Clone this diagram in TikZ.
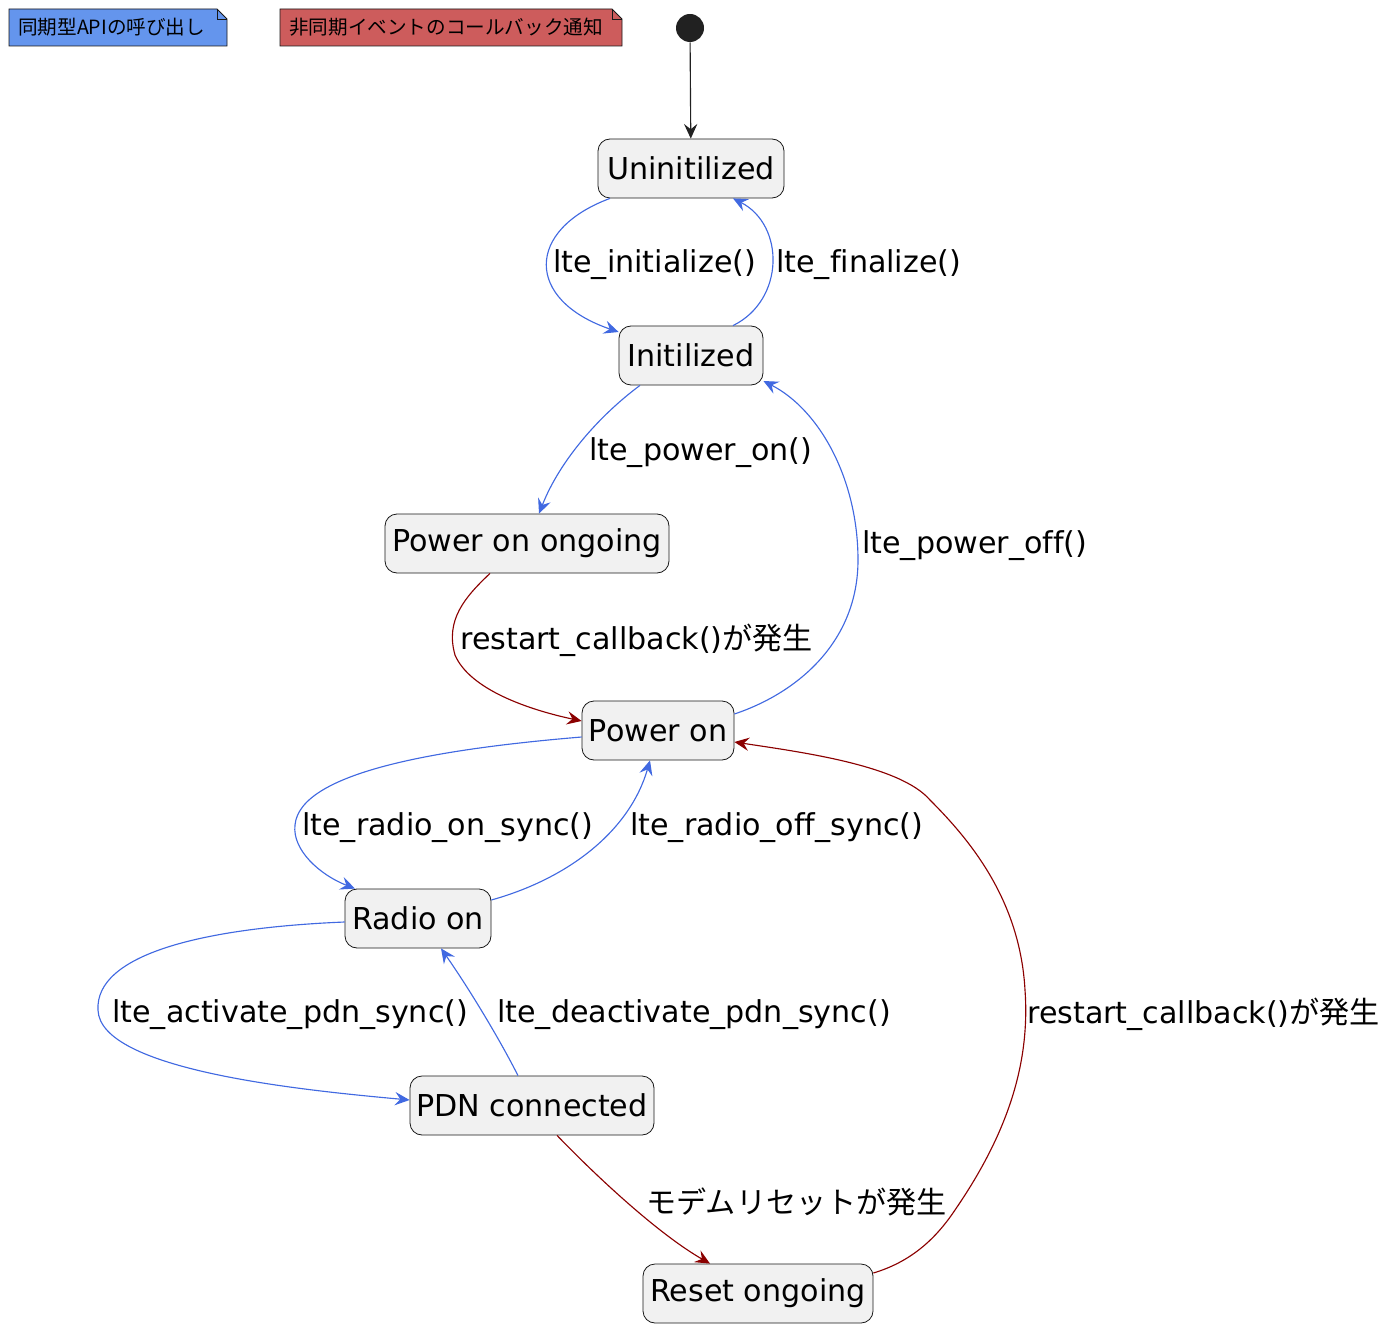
\documentclass[tikz,border=0pt]{standalone}
\usepackage{fontspec}
\setmainfont[Ligatures=NoCommon]{DejaVu Sans}
\newfontfamily\cjk{Noto Sans CJK JP}
\usetikzlibrary{arrows.meta,calc}
\definecolor{apiblue}{HTML}{4169E1}
\definecolor{cbred}{HTML}{8B0000}
\definecolor{notebl}{HTML}{6495ED}
\definecolor{notered}{HTML}{CD5C5C}
\definecolor{statefill}{HTML}{F1F1F1}
\definecolor{stateline}{HTML}{181818}
\tikzset{
  statebox/.style={draw=stateline, fill=statefill, line width=0.6pt, rounded corners=9pt,
    minimum height=44.25pt, inner sep=0pt, font=\fontsize{22.6}{27}\selectfont},
  lbl/.style={anchor=west, inner sep=0pt, font=\fontsize{22.6}{27}\selectfont},
  tip/.style={-{Stealth[length=11pt,width=10pt,inset=4pt]}},
  api/.style={tip, draw=apiblue, line width=0.85pt},
  cb/.style={tip, draw=cbred, line width=0.85pt},
  notetxt/.style={anchor=west, inner sep=0pt, font=\cjk\fontsize{14.7}{17}\selectfont}
}
\begin{document}
\begin{tikzpicture}[x=0.75pt,y=-0.75pt]
\useasboundingbox (0,0) rectangle (1389,1330);
% notes
\draw[fill=notebl, draw=stateline, line width=0.6pt] (9,9) -- (217,9) -- (227,19) -- (227,46) -- (9,46) -- cycle;
\draw[draw=stateline, line width=0.6pt] (217,9) -- (217,19) -- (227,19);
\node[notetxt] (n1) at (18,27.5) {同期型APIの呼び出し};
\draw[fill=notered, draw=stateline, line width=0.6pt] (280,9) -- (612,9) -- (622,19) -- (622,46) -- (280,46) -- cycle;
\draw[draw=stateline, line width=0.6pt] (612,9) -- (612,19) -- (622,19);
\node[notetxt] (n2) at (289,27.5) {非同期イベントのコールバック通知};
% start
\node[circle, fill=black!87, minimum size=21pt, inner sep=0pt] (start) at (690,28) {};
% states
\node[statebox, minimum width=139.5pt] (uninit) at (691,168.5) {Uninitilized};
\node[statebox, minimum width=108pt] (init) at (691,355.5) {Initilized};
\node[statebox, minimum width=213pt] (poo) at (527,543.5) {Power on ongoing};
\node[statebox, minimum width=114pt] (pon) at (658,730.5) {Power on};
\node[statebox, minimum width=109.5pt] (radio) at (418,918.5) {Radio on};
\node[statebox, minimum width=183pt] (pdn) at (532,1105.5) {PDN connected};
\node[statebox, minimum width=172.5pt] (reset) at (758,1293.5) {Reset ongoing};
% edges
\draw[tip, line width=0.85pt, draw=black!87] (start) -- (uninit);
\draw[api] ($(uninit.south)+(-81,0)$) .. controls (525,230) and (525,300) .. ($(init.west)+(0,-23.5)$);
\draw[api] ($(init.north)+(42,0)$) .. controls (785,300) and (785,225) .. ($(uninit.south)+(42,0)$);
\draw[api] ($(init.south)+(-51,0)$) .. controls (600,415) and (560,460) .. ($(poo.north)+(12,0)$);
\draw[api] ($(pon.east)+(0,-16.5)$) .. controls (800,692) and (858,640) .. (858,560)
  .. controls (858,480) and (820,410) .. ($(init.east)+(0,25.5)$);
\draw[cb] ($(poo.south)+(-37,0)$) .. controls (465,597) and (445,620) .. (455,655)
  .. controls (470,690) and (530,710) .. ($(pon.west)+(0,-9.5)$);
\draw[api] ($(pon.west)+(0,6.5)$) .. controls (450,748) and (300,770) .. (295,825)
  .. controls (292,850) and (320,875) .. ($(radio.north)+(-63,0)$);
\draw[api] ($(radio.east)+(0,-18.5)$) .. controls (570,878) and (630,830) .. ($(pon.south)+(-8,0)$);
\draw[api] ($(radio.west)+(0,3.5)$) .. controls (200,928) and (95,955) .. (98,1010)
  .. controls (100,1070) and (300,1090) .. ($(pdn.west)+(0,-5.5)$);
\draw[api] ($(pdn.north)+(-14,0)$) .. controls (500,1040) and (470,990) .. ($(radio.south)+(23,0)$);
\draw[cb] ($(pdn.south)+(25,0)$) .. controls (600,1180) and (660,1235) .. ($(reset.north)+(-48,0)$);
\draw[cb] ($(reset.east)+(0,-20.5)$) .. controls (910,1262) and (935,1240) .. (955,1210)
  .. controls (1010,1130) and (1030,1060) .. (1025,990)
  .. controls (1020,900) and (970,840) .. (930,800)
  .. controls (900,765) and (800,752) .. ($(pon.east)+(0,11.5)$);
% labels
\node[lbl] (l1) at (553,265) {lte\_initialize()};
\node[lbl] (l2) at (776,265) {lte\_finalize()};
\node[lbl] (l3) at (589,453) {lte\_power\_on()};
\node[lbl] (l4) at (862,546) {lte\_power\_off()};
\node[lbl] (l5) at (460,640) {restart\_callback(){\cjk が発生}};
\node[lbl] (l6) at (302,828) {lte\_radio\_on\_sync()};
\node[lbl] (l7) at (630,828) {lte\_radio\_off\_sync()};
\node[lbl] (l8) at (112,1015) {lte\_activate\_pdn\_sync()};
\node[lbl] (l9) at (497,1015) {lte\_deactivate\_pdn\_sync()};
\node[lbl] (l10) at (646,1202) {\cjk モデムリセットが発生};
\node[lbl] (l11) at (1027,1014) {restart\_callback(){\cjk が発生}};
\end{tikzpicture}
\end{document}
